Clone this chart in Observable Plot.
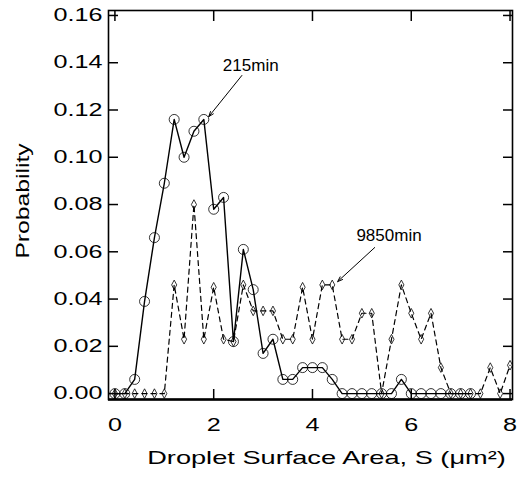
<!DOCTYPE html>
<html><head><meta charset="utf-8">
<script src="https://cdn.jsdelivr.net/npm/d3@7"></script>
<script src="https://cdn.jsdelivr.net/npm/@observablehq/plot@0.6"></script>
<style>html,body{margin:0;padding:0;background:#fff;overflow:hidden;}</style>
</head><body><div id="chart"></div>
<script>
// Series 215 min (circles, solid line)
const s215 = [0,0.2,0.4,0.6,0.8,1.0,1.2,1.4,1.6,1.8,2.0,2.2,2.4,2.6,2.8,3.0,3.2,3.4,3.6,3.8,4.0,4.2,4.4,4.6,4.8,5.0,5.2,5.4,5.6,5.8,6.0,6.2,6.4,6.6,6.8,7.0,7.2];
const p215 = [0,0,0.006,0.039,0.066,0.089,0.116,0.100,0.111,0.116,0.078,0.083,0.022,0.061,0.044,0.017,0.023,0.006,0.006,0.011,0.011,0.011,0.006,0,0,0,0,0,0,0.006,0,0,0,0,0,0,0];
// Series 9850 min (diamonds, dashed line)
const s9850 = [0,0.2,0.4,0.6,0.8,1.0,1.2,1.4,1.6,1.8,2.0,2.2,2.4,2.6,2.8,3.0,3.2,3.4,3.6,3.8,4.0,4.2,4.4,4.6,4.8,5.0,5.2,5.4,5.6,5.8,6.0,6.2,6.4,6.6,6.8,7.0,7.2,7.4,7.6,7.8,8.0];
const p9850 = [0,0,0,0,0,0,0.046,0.023,0.080,0.023,0.045,0.023,0.022,0.046,0.035,0.035,0.035,0.023,0.023,0.045,0.023,0.046,0.046,0.023,0.023,0.034,0.034,0,0.023,0.046,0.034,0.023,0.034,0.011,0,0,0,0,0.011,0,0.012];

const xTicks = [0,2,4,6,8];
const yTicks = [0,0.02,0.04,0.06,0.08,0.10,0.12,0.14,0.16];
const xDomain = [-0.13, 8.05];
const yDomain = [-0.0025, 0.1621];
const xLabel = "Droplet Surface Area, S (\u03bcm\u00b2)";
const yLabel = "Probability";

// Annotations
const annLabels = ["215min", "9850min"];
const annTextX = [2.75, 5.55];
const annTextY = [0.1388, 0.0669];
const annFromX = [2.57, 5.26];
const annFromY = [0.1346, 0.0618];
const annToX = [1.90, 4.51];
const annToY = [0.1172, 0.0474];

const d215 = s215.map((s, i) => ({s, p: p215[i]}));
const d9850 = s9850.map((s, i) => ({s, p: p9850[i]}));
const ann = annLabels.map((label, i) => ({label, tx: annTextX[i], ty: annTextY[i], x1: annFromX[i], y1: annFromY[i], x2: annToX[i], y2: annToY[i]}));

const tallDiamond = {
  draw(ctx, size) {
    const r = Math.sqrt(size / Math.PI);
    const w = r * 0.85, h = r * 1.6;
    ctx.moveTo(0, -h); ctx.lineTo(w, 0); ctx.lineTo(0, h); ctx.lineTo(-w, 0); ctx.closePath();
  }
};

const font = "'Liberation Sans', Arial, Helvetica, sans-serif";

const chart = Plot.plot({
  width: 517, height: 482,
  marginLeft: 108, marginRight: 5, marginTop: 10, marginBottom: 83,
  x: {domain: xDomain},
  y: {domain: yDomain},
  style: {fontFamily: font, fontSize: "18px", color: "black", background: "white"},
  marks: [
    Plot.frame({stroke: "black", strokeWidth: 1.6}),
    Plot.ruleY([yDomain[0]], {stroke: "black", strokeWidth: 2.6}),
    Plot.axisY(yTicks, {anchor: "left", tickSize: -10, tickPadding: 16, tickFormat: d3.format(".2f"), label: null, fontSize: 18, strokeWidth: 1.5}),
    Plot.axisY(yTicks, {anchor: "right", tickSize: -10, tickFormat: () => "", label: null, strokeWidth: 1.5}),
    Plot.axisX(xTicks, {anchor: "bottom", tickSize: -10, tickPadding: 29, tickFormat: d3.format("d"), label: null, fontSize: 18, strokeWidth: 1.5}),
    Plot.axisX(xTicks, {anchor: "top", tickSize: -10, tickFormat: () => "", label: null, strokeWidth: 1.5}),
    Plot.line(d9850, {x: "s", y: "p", stroke: "black", strokeWidth: 1.2, strokeDasharray: "5,4"}),
    Plot.dot(d9850, {x: "s", y: "p", r: 3, symbol: tallDiamond, stroke: "black", fill: "none", strokeWidth: 0.8}),
    Plot.line(d215, {x: "s", y: "p", stroke: "black", strokeWidth: 1.4}),
    Plot.dot(d215, {x: "s", y: "p", r: 5, stroke: "black", fill: "none", strokeWidth: 0.8}),
    Plot.arrow(ann, {x1: "x1", y1: "y1", x2: "x2", y2: "y2", stroke: "black", strokeWidth: 1, headLength: 8, headAngle: 40}),
    Plot.text(ann, {x: "tx", y: "ty", text: "label", fontSize: 17, fill: "black"}),
    Plot.text([xLabel], {frameAnchor: "bottom", textAnchor: "middle", lineAnchor: "bottom", dy: 64, dx: 16, fontSize: 18.5, fill: "black"}),
    Plot.text([yLabel], {frameAnchor: "left", textAnchor: "middle", rotate: -90, lineAnchor: "bottom", dx: -80, dy: -4, fontSize: 19, fill: "black"})
  ]
});

// Horizontal stretch of the axis texts to match the reference lettering
d3.select(chart).selectAll("text").each(function () {
  const txt = this.textContent;
  let s = 1;
  if (/^[0-9.]+$/.test(txt)) s = 1.4;
  else if (txt === xLabel) s = 1.47;
  else if (txt === yLabel) s = 1.3;
  if (s !== 1) {
    const t = this.getAttribute("transform") || "";
    this.setAttribute("transform", (t + ` scale(${s},1)`).trim());
  }
});

document.getElementById("chart").appendChild(chart);
</script>
</body></html>
